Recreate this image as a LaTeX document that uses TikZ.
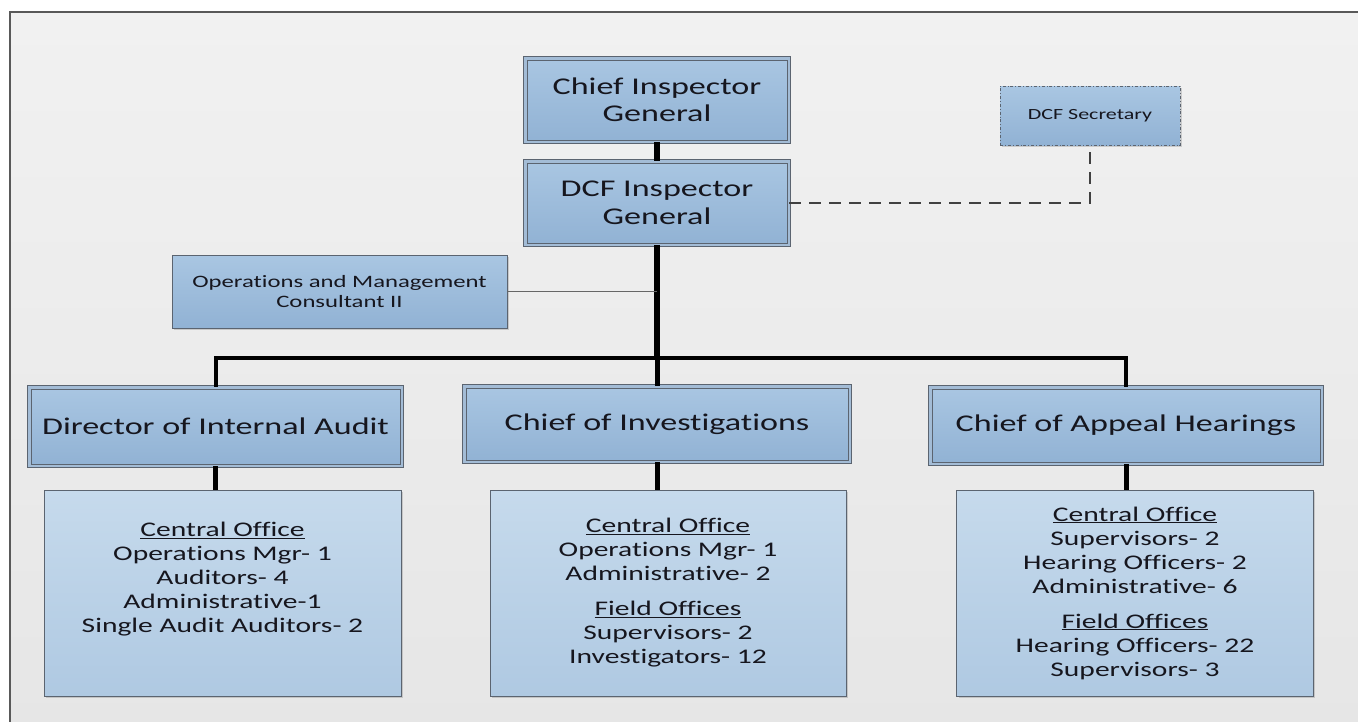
\documentclass[tikz,border=0pt]{standalone}
\usepackage{fontspec}
\setmainfont[FakeStretch=1.42,Ligatures={NoCommon}]{Carlito}
\usetikzlibrary{shadows}
\definecolor{boxtop}{HTML}{A9C6E2}
\definecolor{boxbot}{HTML}{91B2D4}
\definecolor{stafftop}{HTML}{C6DAEC}
\definecolor{staffbot}{HTML}{AFC9E2}
\definecolor{rim}{HTML}{5B6470}
\definecolor{rimgap}{HTML}{A3BCD6}
\definecolor{bgtop}{HTML}{F1F1F1}
\definecolor{bgbot}{HTML}{E6E6E6}
\definecolor{ink}{HTML}{16161E}

\begin{document}
\begin{tikzpicture}
  [x=1pt,y=-1pt,text=ink,
   every node/.style={align=center,inner sep=0pt},
   shade/.style={drop shadow={shadow xshift=2pt,shadow yshift=-2pt,fill=black,opacity=.15}},
   post/.style={shade,draw=rim,double=rimgap,double distance=2.5pt,line width=1pt,
     top color=boxtop,bottom color=boxbot},
   head/.style={post,minimum width=263.5pt,minimum height=83.5pt,font=\fontsize{24}{27.5}\selectfont},
   chief/.style={post,minimum width=372.5pt,minimum height=78.5pt,font=\fontsize{24}{28}\selectfont},
   aide/.style={shade,draw=rim,line width=.8pt,top color=boxtop,bottom color=boxbot},
   staff/.style={shade,draw=rim,line width=1pt,top color=stafftop,bottom color=staffbot,
     minimum width=356pt,minimum height=206pt,font=\fontsize{20.8}{24}\selectfont},
   link/.style={draw=black,line width=5pt}]

  \useasboundingbox (0,0) rectangle (1358,721);
  \draw[draw=black!65,line width=1.2pt,top color=bgtop,bottom color=bgbot]
    (10,12) rectangle (1372,735);

  \node[head] (cig) at (657,100) {Chief Inspector\\General};
  \node[head] (dig) at (657,203) {DCF Inspector\\General};
  \node[aide,dash dot,minimum width=180pt,minimum height=59pt,
    font=\fontsize{15.5}{18}\selectfont] (sec) at (1090,115.5) {DCF Secretary};
  \node[aide,minimum width=335pt,minimum height=73pt,
    font=\fontsize{17.4}{20.7}\selectfont] (omc) at (339.5,291.5)
    {Operations and Management\\Consultant II};

  \node[chief] (dia) at (215.5,426.5) {Director of Internal Audit};
  \node[chief,minimum width=385.5pt,minimum height=75.5pt] (coi) at (657,424)
    {Chief of Investigations};
  \node[chief,minimum width=391.5pt,minimum height=76.5pt] (cah) at (1126,425.5)
    {Chief of Appeal Hearings};

  \node[staff,minimum width=357pt] (dias) at (222.5,593)
    {\underline{Central Office}\\Operations Mgr- 1\\Auditors- 4\\Administrative-1\\
     Single Audit Auditors- 2\\\strut};
  \node[staff] (cois) at (668,593)
    {\underline{Central Office}\\Operations Mgr- 1\\Administrative- 2\\[11pt]
     \underline{Field Offices}\\Supervisors- 2\\Investigators- 12};
  \node[staff,minimum width=356.5pt] (cahs) at (1135,593)
    {\underline{Central Office}\\Supervisors- 2\\Hearing Officers- 2\\Administrative- 6\\[11pt]
     \underline{Field Offices}\\Hearing Officers- 22\\Supervisors- 3};

  \coordinate (bar) at (657,358);

  \draw[link,line width=6pt] (cig) -- (dig);
  \draw[link,line width=6pt] (dig) -- (bar);
  \draw[link,line width=4pt] (dia.north) |- (bar) -| (cah.north);
  \draw[draw=black!60,line width=1.2pt] (omc.east) -- (omc.east -| dig.south);
  \draw[draw=black!75,dash pattern=on 12pt off 8pt,line width=2.5pt] (dig.east) -| (sec.south);

\foreach \from/\to in {bar/coi,dia/dias,coi/cois,cah/cahs}
    \draw[link] (\from.south) -- (\from.south |- \to.north);

\end{tikzpicture}
\end{document}
